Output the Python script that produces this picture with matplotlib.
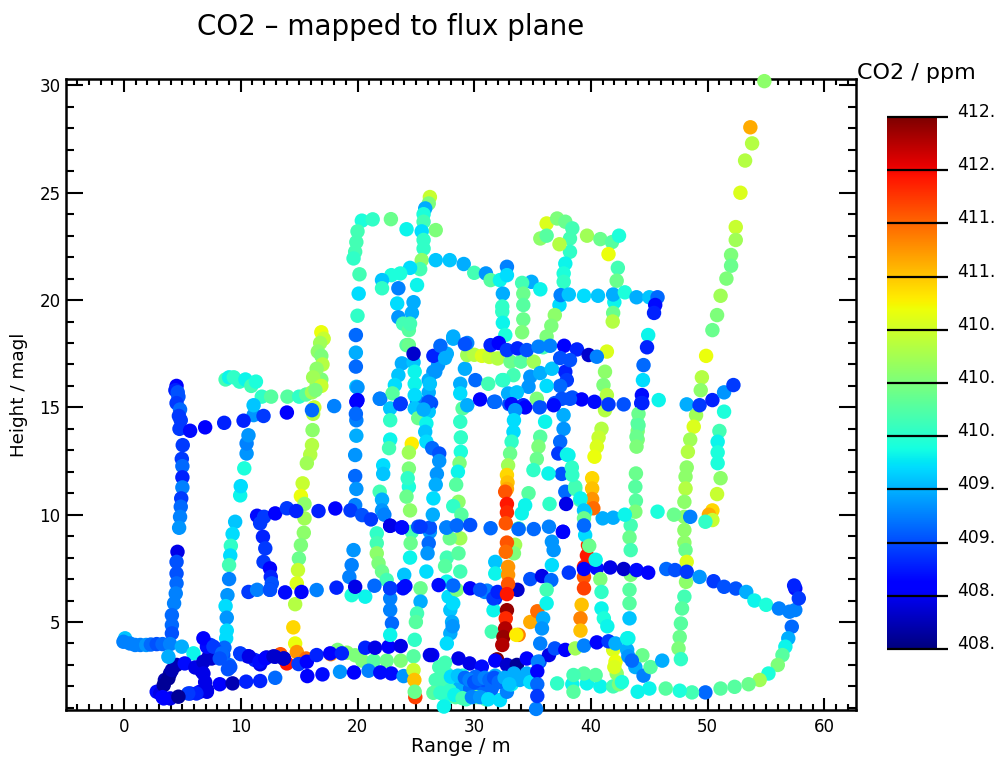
import numpy as np
import matplotlib
matplotlib.use("Agg")
import matplotlib.pyplot as plt
from matplotlib.ticker import MultipleLocator

plt.rcParams['font.family'] = ['DejaVu Sans']

# Each track: range (m), height (magl), CO2 (ppm)
t_left_x = [4.5,4.4,4.6,4.66,4.5,4.8,4.7,4.86,4.75,5.03,4.95,5.0,5.0,5.0,4.9,4.86,4.8,4.72,4.58,4.5,4.5,4.5,4.43,4.29,4.1,4.1,4.1]
t_left_y = [16.0,15.8,15.7,15.5,15.2,14.9,14.6,14.4,14.0,13.24,12.6,12.26,11.74,11.27,10.76,10.37,9.9,9.39,8.27,7.8,7.26,6.8,6.33,5.87,5.32,4.86,4.47]
t_left_c = [408.5,408.7,408.9,408.9,408.8,409.0,408.8,408.8,408.8,408.8,408.8,409.0,408.7,409.1,408.8,409.0,409.1,409.2,408.4,408.9,408.9,409.0,409.1,409.1,409.0,409.0,408.9]

t_row14_x = [5.66,6.95,8.58,10.24,11.95,13.95,16.1,18.0,19.95,21.95,23.7,25.1,26.3]
t_row14_y = [13.91,14.07,14.28,14.38,14.6,14.76,14.87,15.06,15.3,15.4,15.18,15.3,15.2]
t_row14_c = [408.6,408.5,408.7,408.7,408.8,408.5,409.0,409.1,408.5,409.0,408.8,409.1,408.9]

t_low_x = [0.09,-0.05,0.5,0.95,1.4,1.9,2.3,2.8,3.3,3.95,4.95,5.95]
t_low_y = [4.24,4.08,4.0,3.93,3.93,3.93,3.95,3.97,3.97,3.97,3.85,3.54]
t_low_c = [409.4,409.1,409.1,409.1,409.1,409.2,409.0,408.9,409.0,409.1,409.3,409.6]

t_dark_x = [3.4,3.1,3.4,3.8,4.1,4.5,5.2,6.1,6.8,7.25,7.1,6.8,7.66,8.4,9.1,6.8,6.95,7.1,6.2,5.5,4.66,3.3,3.8,8.9,8.2]
t_dark_y = [1.44,1.67,2.06,2.37,2.76,3.0,3.07,2.88,3.15,3.38,3.85,4.24,3.85,3.54,2.9,2.6,2.2,1.75,1.67,1.67,1.52,1.5,3.38,2.8,3.3]
t_dark_c = [408.5,408.4,408.1,408.1,408.2,408.2,408.6,408.4,408.3,408.3,408.6,408.5,408.8,409.0,408.9,408.4,408.4,408.4,408.7,408.8,408.1,408.5,409.3,408.9,408.9]

t_dark2_x = [3.94,3.5,2.8,3.95,5.66,6.5,7.1,6.66,7.5,7.4,8.0,8.5,9.0,10.0,10.7,11.6,12.1,12.8,13.7]
t_dark2_y = [2.6,2.3,1.75,1.44,1.67,1.75,1.83,2.7,3.3,3.93,3.6,3.46,3.0,3.5,3.4,3.15,3.3,3.4,3.3]
t_dark2_c = [408.2,408.2,408.6,408.4,408.7,408.5,408.3,408.2,408.3,408.8,408.8,408.9,409.0,408.8,408.4,408.6,408.5,408.3,408.3]

t_under_x = [8.2,9.3,10.46,11.66,12.95,15.7,17.0,18.5,19.7,20.95,21.95,22.9,23.95]
t_under_y = [2.1,2.14,2.22,2.25,2.4,2.48,2.56,2.68,2.65,2.73,2.65,2.6,2.48]
t_under_c = [408.5,408.2,408.7,408.7,409.0,408.5,408.6,409.2,408.5,409.1,408.6,408.6,409.2]

t_gold_x = [14.5,14.66,14.8,13.95,13.4,15.6,17.7]
t_gold_y = [4.75,4.0,3.6,3.07,3.5,3.3,3.5]
t_gold_c = [411.0,410.8,411.3,411.9,411.6,411.5,411.4]

t_green_x = [18.3,19.1,19.8,20.4,21.4,22.5,23.7,24.8]
t_green_y = [3.7,3.57,3.45,3.2,3.2,3.2,3.2,3.4]
t_green_c = [410.2,410.3,410.2,410.2,410.0,410.1,410.2,410.0]

t_up_x = [9.95,10.6,11.2,11.66,12.2,12.95,13.66,14.95,15.66,16.5,17.66,18.66,20.66,21.5,22.66,23.7,26.4]
t_up_y = [3.54,3.4,3.23,3.03,3.35,3.38,3.3,3.04,3.15,3.46,3.54,3.54,3.8,3.8,3.85,3.88,3.46]
t_up_c = [408.8,408.4,408.7,408.4,408.4,408.4,408.2,408.8,408.5,408.7,408.5,408.7,408.7,408.4,408.5,408.4,408.5]

t_v9_x = [9.52,9.3,9.15,9.1,9.0,9.0,8.86,8.7,8.8,8.8,8.75,8.6,9.95,10.0,10.3,10.5,10.5,10.66,11.1,11.1]
t_v9_y = [9.67,9.1,8.55,8.1,7.65,7.0,6.25,5.74,5.2,4.6,4.24,3.8,10.9,11.33,12.16,12.85,13.32,13.7,14.64,15.1]
t_v9_c = [409.4,409.5,409.8,409.5,409.9,409.1,409.2,409.5,409.2,409.5,409.5,409.0,409.6,409.5,409.7,409.2,409.1,409.2,409.2,409.4]

t_top9_x = [8.7,9.0,9.4,9.9,10.4,10.9,11.3,11.8,12.6,14.0,15.0,15.6,16.1,16.5,16.9,16.3]
t_top9_y = [16.3,16.4,16.4,16.2,16.3,16.0,16.2,15.5,15.5,15.5,15.5,15.6,15.7,16.0,16.3,15.0]
t_top9_c = [409.9,409.6,409.8,409.8,409.6,409.9,409.7,409.8,410.0,410.0,409.8,410.0,410.4,410.3,410.2,410.6]

t_box_x = [11.4,12.0,12.95,13.95,14.75,16.66,18.1,19.4,20.4,21.15,22.8,23.8,25.2,26.2,27.66,11.66,11.9,12.1,11.95,12.5,12.57,12.66,12.5]
t_box_y = [9.95,9.9,10.06,10.3,10.17,10.17,10.29,10.2,9.98,9.78,9.48,9.41,9.44,9.4,9.4,9.6,8.97,8.43,7.8,7.5,7.1,6.8,6.5]
t_box_c = [408.6,408.8,408.5,408.8,408.7,408.7,408.5,408.8,408.9,408.8,408.4,408.6,408.9,408.9,409.2,408.8,408.7,408.8,408.8,408.5,408.7,408.9,408.8]

t_row6_x = [10.66,11.4,12.5,13.8,15.2,16.5,18.2,19.8,21.45,22.8,24.1,26.95,28.2,29.65,30.9,31.8]
t_row6_y = [6.4,6.5,6.5,6.38,6.4,6.49,6.6,6.64,6.69,6.57,6.67,6.72,6.7,6.57,6.4,6.1]
t_row6_c = [408.8,409.1,408.9,408.6,408.5,409.1,408.7,408.4,409.0,408.8,408.6,408.6,409.0,408.5,409.1,408.7]

t_br_x = [19.66,19.5,19.3,19.5,20.66]
t_br_y = [8.35,7.65,7.1,6.25,6.18]
t_br_c = [409.2,409.1,409.1,409.7,409.6]

t_v15_x = [16.2,16.15,16.1,15.95,15.66,15.3,15.15,15.46,15.46,15.4,15.15,14.98,14.9,14.8,14.66]
t_v15_y = [14.7,13.94,13.24,12.8,12.4,11.46,10.87,10.5,9.83,9.16,8.58,7.96,7.42,6.8,5.83]
t_v15_c = [410.5,410.3,410.5,410.5,410.4,410.6,410.8,410.3,410.4,410.3,410.2,410.1,410.6,410.7,410.5]

t_top16_x = [16.9,17.1,16.8,16.6,16.9,17.0,16.5,16.2,16.9,16.4]
t_top16_y = [18.5,18.2,18.0,17.6,17.4,17.0,16.8,16.4,16.0,15.8]
t_top16_c = [410.8,410.6,410.4,410.3,410.2,410.5,410.3,410.4,410.6,410.2]

t_v20_x = [19.9,19.9,19.9,19.9,19.8,19.8,19.9,19.8,20.37,21.3,22.86,20.0,19.9,19.8,19.66,20.17,20.1,20.0,19.86,19.86,19.86,20.0,20.0,19.86]
t_v20_y = [15.96,15.26,14.4,13.68,12.78,11.8,11.2,10.45,23.7,23.76,23.77,23.2,22.7,22.25,21.94,21.2,20.3,19.27,18.37,17.55,16.9,15.93,15.34,14.7]
t_v20_c = [409.4,408.5,409.1,409.3,409.2,409.0,409.2,409.1,409.7,409.8,410.1,409.9,409.9,409.9,409.8,409.9,409.5,409.8,409.0,409.3,409.0,409.2,408.5,409.0]

t_top26_x = [24.2,26.2,26.1,25.8,25.66,25.66,26.7,25.5,25.66,25.66,25.5,25.37,24.5,23.66,22.9,22.1,22.1,26.7,27.9,29.1,30.0,31.0,31.4,32.2,32.8,32.8,32.45,32.4,32.4,32.45,32.66]
t_top26_y = [23.3,24.8,24.5,24.27,24.0,23.65,23.26,23.2,22.8,22.4,21.86,21.44,21.5,21.24,21.16,20.93,20.55,21.86,21.86,21.68,21.27,21.24,20.93,20.93,21.55,21.16,20.3,19.7,19.46,18.94,18.37]
t_top26_c = [409.6,410.6,410.2,409.3,409.7,409.9,410.2,409.5,409.8,409.8,410.3,409.9,409.5,409.7,409.7,409.4,409.8,409.4,409.4,409.3,409.9,409.2,410.0,409.6,409.1,409.5,409.3,409.8,409.8,409.6,409.7]

t_v34_x = [34.9,34.1,34.2,34.2,34.2,34.1,35.66]
t_v34_y = [20.85,20.8,20.3,19.77,19.1,18.5,20.5]
t_v34_c = [409.3,409.9,410.1,410.0,410.1,410.2,409.6]

t_v24_x = [23.5,23.4,23.5,23.9,24.4,24.4,25.1,24.8,24.66,24.5]
t_v24_y = [20.55,19.84,19.2,18.9,18.6,17.9,20.7,19.9,19.4,18.9]
t_v24_c = [409.1,409.5,409.2,409.9,410.0,410.1,409.6,409.3,409.3,409.9]

t_blue17_x = [24.8,26.5,27.1,27.5,28.2,29.4,26.66,26.2,26.1,25.66]
t_blue17_y = [17.5,17.4,17.87,17.3,18.3,18.0,16.66,16.1,15.26,14.9]
t_blue17_c = [408.3,408.7,409.0,409.3,409.3,409.1,409.2,409.4,408.9,409.3]

t_yel_x = [29.4,30.0,30.66,31.3,32.0,33.1,34.0,35.1]
t_yel_y = [17.44,17.45,17.4,17.35,17.28,17.13,17.13,17.13]
t_yel_c = [410.4,410.5,410.7,410.6,410.5,410.1,410.0,410.4]

t_blue18_x = [31.4,32.1,32.8,33.7,34.5,35.5,36.5,37.7,38.8,39.8,40.5]
t_blue18_y = [17.9,18.0,17.67,17.75,17.67,17.83,17.87,17.87,17.7,17.44,17.36]
t_blue18_c = [408.7,408.5,408.8,408.7,408.9,409.1,409.1,408.5,408.7,408.3,409.1]

t_row15_x = [21.9,23.66,29.4,30.5,31.7,33.0,34.2,35.6,36.9,38.4,39.2,40.3,41.5,42.8,44.4,45.8,48.2,49.3,50.4,51.4,52.2]
t_row15_y = [15.4,15.15,15.1,15.37,15.26,15.15,15.1,15.03,15.2,15.46,15.37,15.26,15.14,15.14,15.2,15.34,15.14,15.1,15.34,15.7,16.04]
t_row15_c = [409.1,408.8,409.3,408.5,408.9,408.9,408.7,408.9,408.9,408.9,408.5,408.6,408.8,408.9,408.7,409.6,409.3,408.8,408.7,409.2,408.8]

t_row20_x = [37.4,38.1,39.4,40.6,41.9,42.9,43.9,45.0,45.7,45.5,45.4]
t_row20_y = [20.23,20.26,20.2,20.2,20.26,20.36,20.13,20.13,20.13,19.77,19.4]
t_row20_c = [409.1,409.4,409.5,409.4,409.3,409.7,409.3,409.4,409.0,408.6,408.7]

t_arch_x = [35.66,36.2,37.1,37.8,38.4,38.2,38.2,37.8,37.66,37.66,37.3,36.9,36.6,36.2,35.9,36.2,37.3]
t_arch_y = [22.87,23.57,23.8,23.65,23.34,22.87,22.25,21.7,21.24,20.85,19.77,19.3,18.8,18.3,17.8,23.0,22.6]
t_arch_c = [410.3,410.7,410.2,410.1,409.9,409.9,409.8,409.6,409.7,409.8,409.5,410.3,410.2,410.2,409.9,410.0,410.5]

t_r42_x = [39.66,40.8,41.8,42.4,41.5,42.3,42.2,42.0,41.9,41.86]
t_r42_y = [23.0,22.84,22.7,23.0,22.14,21.5,20.9,19.9,19.4,19.0]
t_r42_c = [410.4,410.1,410.0,409.7,410.8,409.9,410.1,409.6,410.1,410.5]

t_diag_x = [54.85,53.65,53.8,53.2,52.8,52.4,52.4,52.0,52.0,51.6,51.1,50.8,50.4,49.86,49.5,49.4]
t_diag_y = [30.2,28.05,27.3,26.5,25.0,23.4,22.8,22.1,21.6,21.0,20.2,19.3,18.6,17.4,16.4,15.8]
t_diag_c = [410.3,411.2,410.5,410.5,410.7,410.6,410.4,410.2,410.1,410.2,410.4,410.2,410.1,410.8,410.5,410.3]

t_r51_x = [51.4,51.0,50.85,50.85,50.85,51.1,50.8,50.4,50.1,50.4,49.8,48.5,47.1,45.7]
t_r51_y = [14.8,13.9,13.4,12.9,12.4,11.7,10.96,10.2,10.0,9.75,9.67,9.9,10.0,10.14]
t_r51_c = [409.7,409.9,409.6,409.7,409.7,410.3,410.6,411.0,411.2,410.6,409.8,409.1,410.1,409.7]

t_v48_x = [49.0,48.8,48.5,48.3,48.2,48.1,48.1,48.0,48.0,48.0,48.0,48.1,48.2,48.14,48.0,47.8,47.7,47.6,47.5,47.7]
t_v48_y = [14.64,14.1,13.5,12.93,12.2,11.77,11.22,10.6,9.9,9.28,8.7,8.35,7.8,6.87,6.18,5.63,4.93,4.3,3.77,3.27]
t_v48_c = [410.4,410.7,410.4,410.5,410.3,410.3,410.5,410.3,410.3,410.3,410.3,410.1,410.7,410.3,409.9,410.0,410.0,410.1,410.2,409.8]

t_arc_x = [46.45,47.2,48.2,49.3,50.5,51.4,52.4,53.3,54.0,55.0,56.1,57.0,57.5,57.5,57.4,57.8,57.2,56.9,56.65,56.4,56.0,55.2,54.45,53.5,52.3,51.1,49.8,48.65,47.6,46.4]
t_arc_y = [7.47,7.42,7.34,7.1,6.9,6.64,6.56,6.4,6.0,5.8,5.63,5.48,5.56,6.56,6.7,6.1,4.78,4.24,3.85,3.46,3.0,2.6,2.3,2.1,1.98,1.9,1.72,1.72,1.8,1.9]
t_arc_c = [409.0,408.9,408.8,409.2,408.8,408.9,408.9,409.3,409.6,409.7,409.1,409.1,409.1,408.6,408.7,408.8,409.0,409.3,409.6,410.0,410.2,409.7,410.4,410.1,410.0,410.0,409.0,409.9,409.7,410.0]

t_v43_x = [44.0,44.0,44.0,43.85,43.8,43.85,43.8,43.4,43.3,43.4,43.4,43.3,43.3,43.3,43.2]
t_v43_y = [14.25,13.9,13.5,11.92,11.3,10.65,10.14,9.5,8.94,8.35,7.2,6.5,5.87,5.17,4.24]
t_v43_c = [410.0,410.2,410.2,410.1,410.0,410.0,410.2,409.9,410.1,409.9,410.2,410.0,410.0,409.4,409.6]

t_row10_x = [41.0,41.9,42.9]
t_row10_y = [9.83,9.86,10.0]
t_row10_c = [409.3,409.3,409.6]

t_row75_x = [34.8,35.8,36.6,38.1,39.4,40.5,41.65,42.8,43.9,44.9]
t_row75_y = [7.0,7.14,6.95,7.3,7.47,7.5,7.54,7.47,7.42,7.3]
t_row75_c = [408.9,408.4,409.0,408.8,408.5,408.6,408.4,408.3,408.6,408.5]

t_v40_x = [40.1,40.1,40.1,40.2,39.74,39.65,39.4,39.4,39.4,39.2,39.1,39.1]
t_v40_y = [11.7,11.22,10.73,10.3,8.58,8.1,7.57,7.1,6.57,5.8,5.17,4.6]
t_v40_c = [411.0,411.1,411.3,411.5,411.8,411.9,411.9,411.6,411.7,411.1,411.4,411.1]

t_d38_x = [37.94,38.4,38.65,39.1,39.4,39.4,39.5,39.85,40.4,40.8,40.9,40.9,41.1,41.4]
t_d38_y = [12.8,11.85,11.2,10.76,10.2,9.83,9.05,8.55,7.9,7.0,6.4,5.63,5.17,4.8]
t_d38_c = [409.6,409.8,409.9,409.6,409.4,410.1,409.5,410.1,409.6,410.2,409.8,409.6,409.7,409.6]

t_v37_x = [37.6,36.8,36.65,36.2,36.2,35.9,35.8,35.65,35.45,35.4,35.4,35.3,35.4]
t_v37_y = [9.2,8.35,7.65,6.5,5.87,5.17,4.7,4.0,3.15,2.7,2.1,0.95,1.55]
t_v37_c = [408.5,409.2,409.5,409.9,409.6,409.3,409.2,409.1,409.1,408.5,409.0,409.1,408.8]

t_c22_x = [24.2,23.8,23.5,23.2,23.0,22.8,22.8,22.8,22.7,22.2,22.2,21.9,22.1,22.1,22.3]
t_c22_y = [17.9,17.05,16.5,16.04,15.65,14.95,14.4,13.5,13.1,12.3,11.9,11.07,10.7,10.2,10.0]
t_c22_c = [410.0,409.3,409.4,409.5,410.0,409.4,409.8,409.6,409.9,409.5,409.4,409.9,409.3,409.2,409.1]

t_c24_x = [24.8,24.9,24.9,24.9,24.9,25.2,24.65,24.4,24.4,24.4,24.2,24.5,24.3]
t_c24_y = [17.1,16.66,16.1,15.57,14.95,14.5,13.3,12.9,12.15,11.3,10.84,10.2,11.7]
t_c24_c = [409.4,409.6,409.6,409.5,409.4,410.1,410.9,410.4,410.2,409.7,410.1,410.3,409.8]

t_c27_x = [28.2,27.65,26.9,26.5,26.1,26.1,26.1,26.1,25.9,25.8,25.9,26.4,27.0,27.0,26.8,26.7,26.5,26.45]
t_c27_y = [18.2,17.5,16.97,16.66,16.27,15.7,15.2,14.8,14.25,13.86,13.4,13.1,12.85,12.5,11.9,11.4,10.76,10.0]
t_c27_c = [409.3,409.3,409.2,409.2,409.3,409.3,408.8,409.4,409.6,409.4,409.5,409.0,408.9,409.2,409.2,409.3,409.5,409.3]

t_c29_x = [29.2,28.8,28.8,29.0,28.8,28.85,28.85,28.74,28.6,28.45,28.65,28.2,28.9]
t_c29_y = [16.8,16.1,15.65,14.95,14.33,13.6,12.93,12.4,12.0,11.4,10.6,10.4,10.0]
t_c29_c = [409.3,409.3,409.5,410.0,409.8,409.8,409.7,410.2,409.6,410.0,410.3,409.8,410.0]

t_b21_x = [21.65,21.65,21.65,21.8,22.1,22.5,22.8,22.8,22.8,22.95,22.8]
t_b21_y = [9.13,8.67,8.2,7.74,7.35,6.96,6.57,6.1,5.56,4.94,4.4]
t_b21_c = [409.8,409.9,410.3,410.2,410.1,409.9,408.9,409.1,409.1,409.0,409.6]

t_b24_x = [24.65,24.55,24.5,24.0,23.9]
t_b24_y = [9.2,8.67,8.0,7.2,6.57]
t_b24_c = [409.9,410.1,409.6,409.4,408.6]

t_b26_x = [26.2,26.1,26.0,25.9,25.4,25.4,25.1,25.0,24.9]
t_b26_y = [9.2,8.67,8.2,7.35,6.57,5.95,5.4,5.0,4.17]
t_b26_c = [409.2,409.0,409.2,409.5,410.1,409.3,409.9,410.0,409.8]

t_b27_x = [27.65,27.5,27.65,27.8,27.95,28.1,27.95,27.65]
t_b27_y = [8.0,7.6,6.88,6.18,5.56,5.0,4.47,4.0]
t_b27_c = [409.9,410.0,409.6,409.5,409.4,409.3,409.3,409.5]

t_b28_x = [28.65,28.8,28.5,28.2,28.15,28.8,27.9]
t_b28_y = [8.2,7.35,6.5,5.87,4.8,8.9,8.9]
t_b28_c = [410.0,409.9,410.2,409.5,409.2,410.4,410.1]

t_row9_x = [22.8,23.8,25.4,27.6,28.5,29.65,31.4,33.8,35.1,36.4,37.6,39.4]
t_row9_y = [9.49,9.4,9.44,9.4,9.5,9.52,9.37,9.33,9.33,9.44,9.2,9.5]
t_row9_c = [408.4,408.6,408.8,409.1,409.0,408.9,409.0,409.0,409.0,409.1,408.5,409.0]

t_row65_x = [30.5,31.65,32.0,33.7]
t_row65_y = [6.5,6.1,6.4,6.5]
t_row65_c = [408.9,408.8,408.7,408.3]

t_c33_x = [33.5,33.4,33.36,33.2,33.07,32.9,31.8,31.8,31.1,31.65,31.5]
t_c33_y = [14.87,14.4,13.86,13.4,12.85,12.3,7.8,7.26,6.46,5.55,4.55]
t_c33_c = [409.2,409.5,409.5,409.8,410.1,410.4,409.4,409.6,409.1,409.6,409.9]

t_c35_x = [36.07,35.65,35.5,35.36,35.07,34.65,34.36,34.07,33.8,33.5,33.4,36.36,36.45,36.65]
t_c35_y = [14.33,13.63,13.17,12.6,12.08,11.0,10.44,10.06,9.36,8.6,8.2,11.92,10.5,8.74]
t_c35_c = [409.6,410.0,410.2,410.1,409.8,410.0,409.6,409.6,410.0,410.4,410.2,409.6,409.8,409.2]

t_c37_x = [37.8,37.93,37.36,37.65,37.65,37.36,37.2,37.5,37.8,37.87]
t_c37_y = [16.66,16.27,16.0,14.64,14.0,13.4,12.85,11.9,11.07,10.5]
t_c37_c = [408.7,408.8,409.0,409.3,409.2,409.0,408.8,408.9,409.0,408.4]

t_c38_x = [38.07,38.36,38.65,39.07,39.5]
t_c38_y = [12.77,12.2,11.3,10.68,10.1]
t_c38_c = [409.6,409.8,409.9,409.9,409.6]

t_blob_x = [34.8,35.65,34.65,36.2,33.36,32.5,32.9,33.65,36.65,37.36,38.2,37.5,38.2,35.36,36.8,35.6,34.36,33.2,31.8,29.2,30.1,31.2,32.4]
t_blob_y = [16.43,16.6,15.96,16.0,16.5,16.27,15.65,15.7,16.8,17.3,17.2,15.4,15.4,15.4,15.1,15.0,15.0,15.15,15.26,17.95,16.27,16.1,16.27]
t_blob_c = [409.2,409.3,409.2,409.5,409.9,409.8,409.3,409.4,409.4,408.9,408.9,408.9,408.9,410.2,408.6,408.9,408.5,408.6,409.0,408.9,409.0,409.9,409.8]

t_c41_x = [41.36,41.2,41.07,41.36,41.2,40.9,40.65,40.5,40.3]
t_c41_y = [17.6,16.66,16.04,15.57,14.87,14.0,13.6,13.17,12.7]
t_c41_c = [410.7,410.3,410.2,410.5,410.5,410.5,410.6,410.7,410.8]

t_c44_x = [44.9,44.8,44.5,44.45,44.36,44.3,44.07,44.07,43.9,43.9]
t_c44_y = [18.37,17.8,16.97,16.27,15.57,15.2,14.7,14.17,13.63,13.17]
t_c44_c = [409.6,408.7,409.0,409.5,408.6,408.7,410.1,410.0,410.1,410.2]

t_botg_x = [37.1,38.4,39.65,40.8,41.9,38.5,39.4,40.4,38.5]
t_botg_y = [2.14,2.1,2.14,2.0,2.0,1.75,2.6,2.53,2.53]
t_botg_c = [409.8,409.6,409.6,409.6,409.9,410.0,410.0,410.0,409.9]

t_clus_x = [41.9,42.1,42.2,42.4,43.1,43.2,43.8,44.5,45.0,44.0,42.65,44.4,45.1,46.1,42.0,43.5]
t_clus_y = [3.7,3.15,2.6,2.1,3.7,3.4,2.9,2.5,1.9,1.75,2.2,3.45,2.9,3.2,2.9,3.2]
t_clus_c = [410.7,410.8,410.3,410.2,409.3,409.2,409.3,409.1,409.6,409.6,409.7,410.1,410.0,409.3,410.7,409.0]

t_bot3_x = [28.65,29.6,30.65,31.8,32.8,33.65,34.5,35.6,36.4,36.9,37.8,38.65,39.4,40.5,41.5,42.1,43.1,26.2]
t_bot3_y = [3.3,3.07,2.92,3.2,3.0,3.0,3.3,3.15,3.46,3.77,3.7,3.77,3.9,4.05,4.1,4.0,4.24,3.46]
t_bot3_c = [408.4,408.4,408.6,408.5,408.3,408.1,408.5,408.9,408.4,408.9,408.5,410.4,409.1,408.5,408.8,409.3,409.6,408.4]

t_botl_x = [28.2,28.8,29.65,30.5,31.4,32.2,32.8,32.0,30.8,30.1,27.6,27.4,27.65,28.4,29.0,31.0,31.8,33.2,33.9,34.5,26.7,27.0,26.5,34.8,33.4,30.2,31.5,29.3]
t_botl_y = [2.3,2.0,1.9,1.83,1.6,1.36,1.75,2.2,2.3,2.45,2.6,1.85,1.44,1.5,2.5,1.4,2.5,2.1,2.3,2.6,2.3,2.9,1.7,2.2,2.6,1.5,1.9,1.4]
t_botl_c = [409.7,409.3,409.0,409.0,409.1,409.5,409.1,409.1,408.9,409.0,409.9,409.9,409.7,410.0,409.7,409.9,409.3,409.6,409.3,409.3,409.9,409.9,410.0,409.5,409.3,410.1,409.0,409.8]

t_botm_x = [27.5,27.5,27.5,27.1,27.9,27.4,28.0,28.6,29.2,29.6,30.0,30.4,30.9,31.3,31.7,32.1,32.6,33.0,28.3,29.0,29.8,30.5,31.2]
t_botm_y = [3.1,2.6,2.15,1.7,1.8,1.06,2.45,2.5,2.4,2.3,2.2,2.35,2.4,2.3,2.4,2.2,2.4,2.1,1.6,1.45,1.5,1.5,1.4]
t_botm_c = [409.9,409.9,409.9,409.8,409.8,409.6,409.5,409.4,409.0,409.1,408.9,409.0,409.1,409.0,408.9,409.0,409.3,409.4,409.6,409.9,409.1,409.2,409.5]

t_v245_x = [24.8,24.87,24.95,24.9]
t_v245_y = [2.76,2.3,1.5,1.75]
t_v245_c = [410.6,411.1,411.7,410.1]

t_red_x = [32.8,32.85,32.8,32.65,32.8,32.8,32.7,32.8,32.7,32.9,32.9,32.9,32.8,32.8,32.7,32.65,32.5,32.4,31.95,33.8,34.8,35.4,33.6]
t_red_y = [11.85,11.5,11.2,11.07,10.5,10.1,9.6,8.7,8.27,7.57,7.2,6.77,6.3,5.55,5.17,4.7,4.3,3.93,3.26,4.4,5.0,5.5,4.4]
t_red_c = [411.0,411.1,411.2,411.6,411.9,411.8,411.6,411.6,411.5,411.3,411.3,411.6,411.9,412.3,411.8,412.2,412.3,412.2,412.4,411.4,411.2,411.5,410.9]

tracks = [
    (t_left_x,t_left_y,t_left_c),(t_low_x,t_low_y,t_low_c),(t_top9_x,t_top9_y,t_top9_c),
    (t_v9_x,t_v9_y,t_v9_c),(t_v15_x,t_v15_y,t_v15_c),(t_top16_x,t_top16_y,t_top16_c),
    (t_row14_x,t_row14_y,t_row14_c),(t_v20_x,t_v20_y,t_v20_c),(t_br_x,t_br_y,t_br_c),
    (t_gold_x,t_gold_y,t_gold_c),(t_green_x,t_green_y,t_green_c),(t_under_x,t_under_y,t_under_c),
    (t_up_x,t_up_y,t_up_c),(t_dark2_x,t_dark2_y,t_dark2_c),(t_dark_x,t_dark_y,t_dark_c),
    (t_v245_x,t_v245_y,t_v245_c),(t_b21_x,t_b21_y,t_b21_c),(t_b24_x,t_b24_y,t_b24_c),
    (t_b26_x,t_b26_y,t_b26_c),(t_b27_x,t_b27_y,t_b27_c),(t_b28_x,t_b28_y,t_b28_c),
    (t_c22_x,t_c22_y,t_c22_c),(t_c24_x,t_c24_y,t_c24_c),(t_c29_x,t_c29_y,t_c29_c),
    (t_box_x,t_box_y,t_box_c),(t_row6_x,t_row6_y,t_row6_c),(t_c27_x,t_c27_y,t_c27_c),
    (t_top26_x,t_top26_y,t_top26_c),(t_v24_x,t_v24_y,t_v24_c),(t_v34_x,t_v34_y,t_v34_c),
    (t_yel_x,t_yel_y,t_yel_c),(t_blue17_x,t_blue17_y,t_blue17_c),(t_arch_x,t_arch_y,t_arch_c),
    (t_r42_x,t_r42_y,t_r42_c),(t_row20_x,t_row20_y,t_row20_c),(t_diag_x,t_diag_y,t_diag_c),
    (t_c41_x,t_c41_y,t_c41_c),(t_v48_x,t_v48_y,t_v48_c),(t_r51_x,t_r51_y,t_r51_c),
    (t_v43_x,t_v43_y,t_v43_c),(t_c44_x,t_c44_y,t_c44_c),(t_row15_x,t_row15_y,t_row15_c),
    (t_blue18_x,t_blue18_y,t_blue18_c),(t_row10_x,t_row10_y,t_row10_c),(t_v40_x,t_v40_y,t_v40_c),
    (t_row75_x,t_row75_y,t_row75_c),(t_arc_x,t_arc_y,t_arc_c),(t_c37_x,t_c37_y,t_c37_c),
    (t_blob_x,t_blob_y,t_blob_c),(t_c38_x,t_c38_y,t_c38_c),(t_d38_x,t_d38_y,t_d38_c),
    (t_c35_x,t_c35_y,t_c35_c),(t_c33_x,t_c33_y,t_c33_c),(t_row65_x,t_row65_y,t_row65_c),
    (t_red_x,t_red_y,t_red_c),(t_row9_x,t_row9_y,t_row9_c),(t_botg_x,t_botg_y,t_botg_c),
    (t_clus_x,t_clus_y,t_clus_c),(t_bot3_x,t_bot3_y,t_bot3_c),(t_botl_x,t_botl_y,t_botl_c),
    (t_botm_x,t_botm_y,t_botm_c),(t_v37_x,t_v37_y,t_v37_c),
]

cbar_ticks = [408.0,408.44,408.88,409.32,409.76,410.2,410.64,411.08,411.52,411.96,412.4]
cbar_labels = ['408.','408.','409.','409.','410.','410.','410.','411.','411.','412.','412.']
VMIN, VMAX = 408.0, 412.4
W, H = 996, 758

fig = plt.figure(figsize=(W/100, H/100), dpi=100)
ax = fig.add_axes([66/W, 1-710/H, (856-66)/W, (710-79)/H])
for tx, ty, tc in tracks:
    ax.scatter(tx, ty, c=tc, cmap='jet', vmin=VMIN, vmax=VMAX, s=108, linewidths=0,
               clip_on=False, zorder=5)
ax.set_xlim(-4.97, 62.7)
ax.set_ylim(0.9, 30.3)
ax.xaxis.set_major_locator(MultipleLocator(10))
ax.xaxis.set_minor_locator(MultipleLocator(1))
ax.yaxis.set_major_locator(MultipleLocator(5))
ax.yaxis.set_minor_locator(MultipleLocator(1))
ax.tick_params(which='major', axis='x', direction='in', length=9, width=1.5, top=True, bottom=True, labelsize=12, pad=6)
ax.tick_params(which='minor', axis='x', direction='in', length=4.5, width=1.5, top=True, bottom=True)
ax.tick_params(which='major', axis='y', direction='in', length=12, width=1.5, left=True, right=True, labelsize=12, pad=4)
ax.tick_params(which='minor', axis='y', direction='in', length=6, width=1.5, left=True, right=True)
for s in ax.spines.values():
    s.set_linewidth(1.8)
ax.set_xlabel('Range / m', fontsize=14, va='center')
ax.set_ylabel('Height / magl', fontsize=13.2, va='center')
ax.xaxis.set_label_coords(0.5, (710-747)/631)
ax.yaxis.set_label_coords((19-66)/790, 0.5)
fig.text(391/W, 1-27/H, 'CO2 – mapped to flux plane', fontsize=20, ha='center', va='center')
fig.text(916.5/W, 1-73/H, 'CO2 / ppm', fontsize=16, ha='center', va='center')

cax = fig.add_axes([887/W, 1-649/H, 50/W, (649-117)/H])
grad = np.linspace(VMIN, VMAX, 256).reshape(-1, 1)
cax.imshow(grad, aspect='auto', cmap='jet', origin='lower', vmin=VMIN, vmax=VMAX,
           extent=[0, 1, VMIN, VMAX])
cax.set_xticks([])
cax.set_yticks([])
for s in cax.spines.values():
    s.set_visible(False)
trans = cax.get_yaxis_transform()
cax.hlines(cbar_ticks, 0, 1.22, colors='black', linewidths=1.6, transform=trans, clip_on=False)
for v, lab in zip(cbar_ticks, cbar_labels):
    cax.annotate(lab, xy=(1.22, v), xycoords=trans, xytext=(6.5, 3.6), textcoords='offset points',
                 fontsize=12.3, ha='left', va='center', annotation_clip=False)

fig.savefig('out.png', dpi=100)
